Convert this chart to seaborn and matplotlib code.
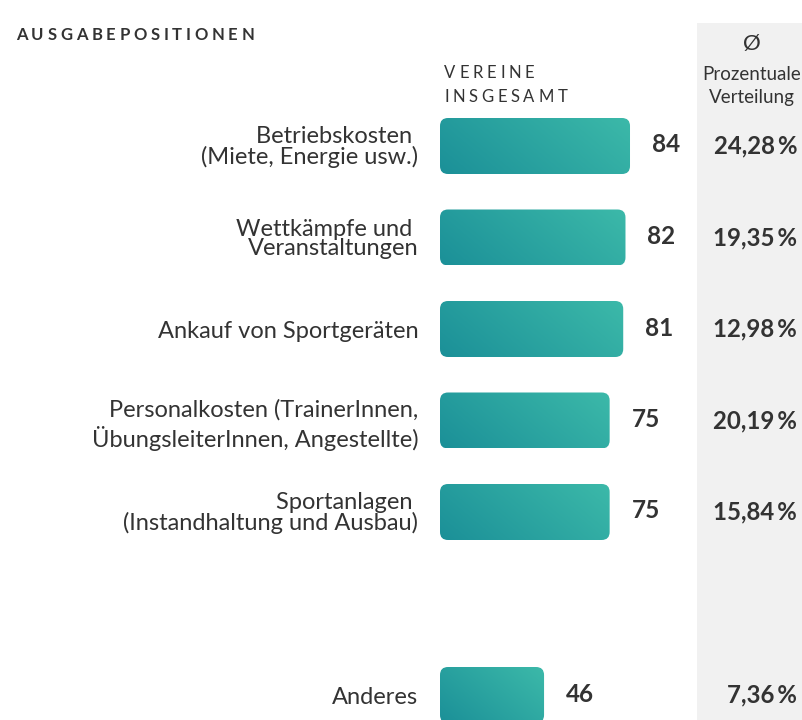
import numpy as np
import pandas as pd
import matplotlib
matplotlib.use("Agg")
import matplotlib.pyplot as plt
import seaborn as sns
from matplotlib.patches import FancyBboxPatch, Rectangle
from matplotlib.colors import LinearSegmentedColormap
from matplotlib import transforms

# Data
categories = [
    "Betriebskosten \n(Miete, Energie usw.)",
    "Wettkämpfe und \nVeranstaltungen",
    "Ankauf von Sportgeräten",
    "Personalkosten (TrainerInnen,\nÜbungsleiterInnen, Angestellte)",
    "Sportanlagen \n(Instandhaltung und Ausbau)",
    "Anderes",
]
vereine = [84, 82, 81, 75, 75, 46]
anteil = ["24,28", "19,35", "12,98", "20,19", "15,84", "7,36"]

sns.set_theme(style="white")
plt.rcParams["font.family"] = ["Lato", "DejaVu Sans"]

TEXT = "#333333"
W, H = 802, 720
fig = plt.figure(figsize=(W / 100, H / 100), dpi=100)
fig.patch.set_facecolor("white")


def fx(px):
    return px / W


def fy(py):
    return 1 - py / H


# Grey column behind the percentage share
fig.patches.append(Rectangle((fx(697), 0), fx(W - 697), fy(23), transform=fig.transFigure,
                             facecolor="#f1f1f1", edgecolor="none", zorder=-1))

ax = fig.add_axes([fx(440), 0, fx(W - 440), fy(100)])
ax.set_facecolor("none")

df = pd.DataFrame({"Position": categories, "Vereine": vereine})
order = categories[:5] + [" "] + categories[5:]
sns.barplot(data=df, x="Vereine", y="Position", order=order, orient="h",
            width=0.612, color="#2aa5a0", ax=ax)

px_per_x = 2.262
px_per_y = 91.5
ax.set_xlim(0, (W - 440) / px_per_x)
ax.set_ylim((720 - 146) / px_per_y, (100 - 146) / px_per_y)

cmap = LinearSegmentedColormap.from_list("teal", ["#1b9098", "#3cb9a9"])
for bar in list(ax.patches):
    x0, y0 = bar.get_x(), bar.get_y()
    w, h = bar.get_width(), bar.get_height()
    bar.set_visible(False)
    r = 8 / px_per_x
    box = FancyBboxPatch((x0, y0), w, h,
                         boxstyle=f"round,pad=0,rounding_size={r}",
                         mutation_aspect=px_per_x / px_per_y,
                         facecolor="none", edgecolor="none", transform=ax.transData)
    ax.add_patch(box)
    nx, ny = max(int(w * px_per_x), 2), max(int(h * px_per_y), 2)
    xx, yy = np.meshgrid(np.linspace(0, 1, nx) * nx, np.linspace(0, 1, ny) * ny)
    t = (xx + (ny - yy) * 1.2) / (nx + ny * 1.2)
    im = ax.imshow(t, cmap=cmap, vmin=0, vmax=1, origin="upper",
                   extent=(x0, x0 + w, y0 + h, y0), aspect="auto",
                   interpolation="bilinear", zorder=2)
    im.set_clip_path(box)

positions = [order.index(c) for c in categories]
ax.set_yticks(positions)
labels = ax.set_yticklabels(categories, fontsize=17, color=TEXT, linespacing=0.92)
labels[3].set_linespacing(1.25)
ax.tick_params(axis="y", length=0, pad=15.5)
ax.set_xticks([])
ax.set_xlabel("")
ax.set_ylabel("")
sns.despine(ax=ax, left=True, bottom=True)

# Value labels next to each bar
for p, v in zip(positions, vereine):
    ax.annotate(f"{v}", xy=(v, p), xytext=(22, 1), textcoords="offset pixels",
                ha="left", va="center", fontsize=17.5, fontweight="bold", color=TEXT)

# Percentage share column
blend = transforms.blended_transform_factory(fig.transFigure, ax.transData)
for p, s in zip(positions, anteil):
    fig.text(fx(797), p, f"{s}\u2009%", transform=blend, ha="right", va="center",
             fontsize=17.3, fontweight="bold", color=TEXT)

renderer = fig.canvas.get_renderer()


def tracked(text, x_px, y_px, spacing_px, **kw):
    x = x_px
    for ch in text:
        t = fig.text(fx(x), fy(y_px), ch, ha="left", va="center", **kw)
        x += t.get_window_extent(renderer).width + spacing_px


tracked("AUSGABEPOSITIONEN", 16, 35, 3.7, fontsize=12, fontweight="bold", color=TEXT)
tracked("VEREINE", 444, 73, 3.8, fontsize=12, color=TEXT)
tracked("INSGESAMT", 444, 97, 3.7, fontsize=12, color=TEXT)

fig.text(fx(752), fy(44), "Ø", ha="center", va="center", fontsize=16, color=TEXT)
fig.text(fx(752), fy(74), "Prozentuale", ha="center", va="center", fontsize=13.5, color=TEXT)
fig.text(fx(752), fy(97), "Verteilung", ha="center", va="center", fontsize=13.5, color=TEXT)

fig.savefig("out.png", dpi=100, facecolor="white")
